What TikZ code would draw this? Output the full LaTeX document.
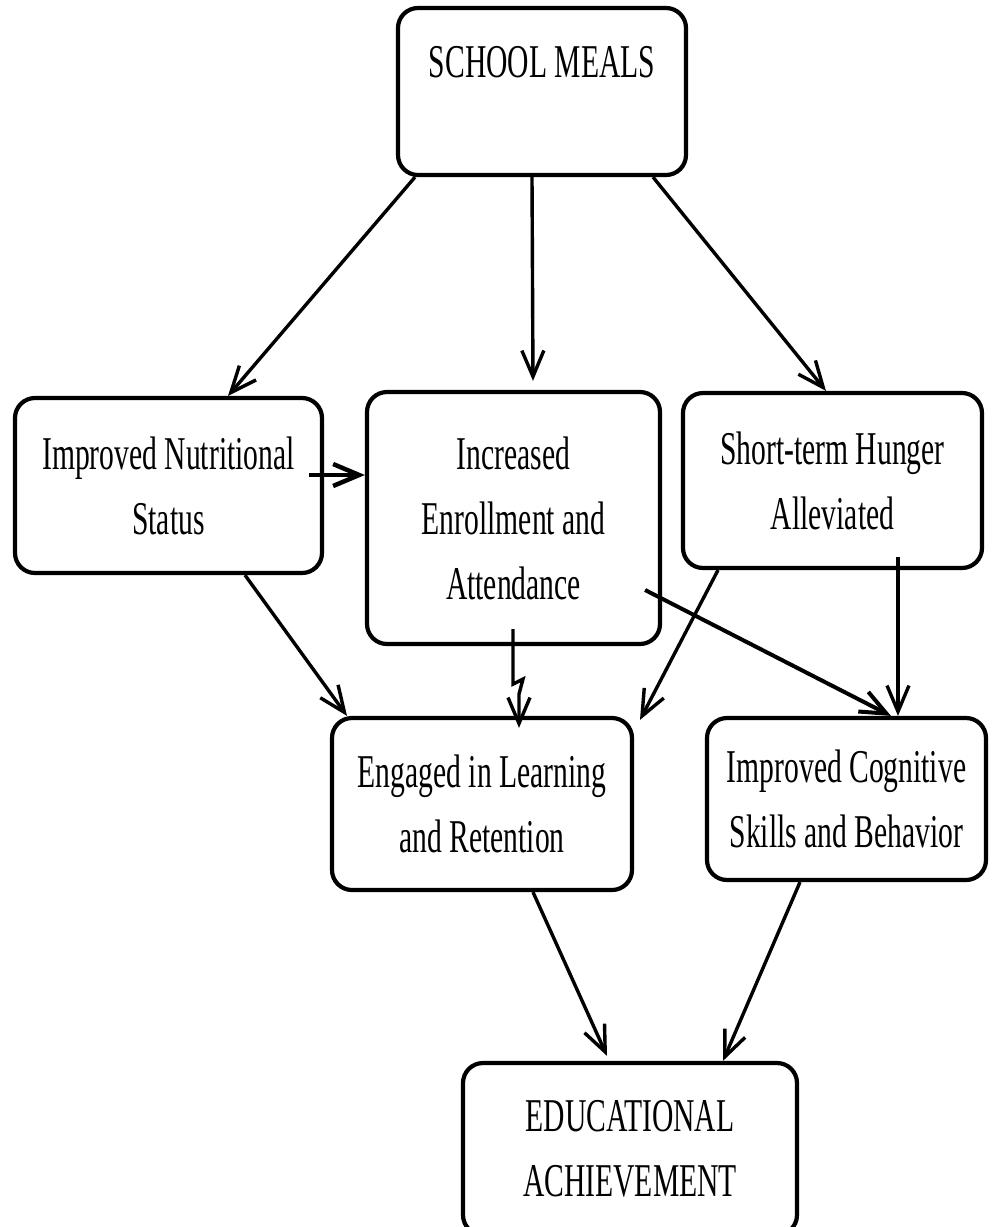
\documentclass[tikz,border=0pt]{standalone}
\usepackage{fontspec}
\setmainfont{Liberation Serif}[FakeStretch=0.63]
\usetikzlibrary{arrows.meta}
\begin{document}
\begin{tikzpicture}[x=1pt,y=-1pt,
  box/.style={draw, line width=4.2pt, rounded corners=20pt, inner sep=0pt, align=center,
    font=\fontsize{47}{65}\selectfont},
  arr/.style={line width=3.4pt, -{Straight Barb[length=26pt,width=22pt]}}]
\useasboundingbox (0,0) rectangle (997,1227);
\clip (0,0) rectangle (997,1227);
\fill[white] (0,0) rectangle (997,1227);

\node[box, align=none, minimum width=288pt, text height=69pt, text depth=98pt, anchor=base] (sm) at (542,77) {SCHOOL MEALS};
\node[box, minimum width=307pt, minimum height=175pt] (nut) at (168.5,485.5) {Improved Nutritional\\Status};
\node[box, minimum width=293pt, minimum height=252pt] (inc) at (513.5,518) {Increased\\Enrollment and\\Attendance};
\node[box, minimum width=299pt, minimum height=175pt] (st) at (832.5,480.5) {Short-term Hunger\\Alleviated};
\node[box, minimum width=300pt, minimum height=172pt] (eng) at (482,804) {Engaged in Learning\\and Retention};
\node[box, minimum width=279pt, minimum height=162pt] (cog) at (846.5,799) {Improved Cognitive\\Skills and Behavior};
\node[box, minimum width=334pt, minimum height=172pt] (edu) at (630,1149) {EDUCATIONAL\\ACHIEVEMENT};

\draw[arr] ([xshift=-127pt]sm.south) -- ([xshift=59.5pt]nut.north);
\draw[arr] ([xshift=-10pt]sm.south) -- ([xshift=19.5pt,yshift=9pt]inc.north);
\draw[arr] ([xshift=111pt]sm.south) -- ([xshift=-6.5pt]st.north);
\draw[arr, line width=4.5pt] ([xshift=-15pt,yshift=10.5pt]nut.east) -- ([yshift=43pt]inc.west);
\draw[arr] ([xshift=76.5pt]nut.south) -- ([xshift=-135pt]eng.north);
\draw[arr] ([xshift=-0.5pt,yshift=17pt]inc.south) -- ++(0,55) -- ++(10,-5) -- ++(-4,15) -- ([xshift=37pt,yshift=-12pt]eng.north);
\draw[arr] ([xshift=-114.5pt]st.south) -- ([xshift=158pt,yshift=-4pt]eng.north);
\draw[arr] ([xshift=65.5pt,yshift=13pt]st.south) -- ([xshift=51.5pt]cog.north);
\draw[arr, line width=4pt] ([xshift=-17pt,yshift=-72pt]inc.east) -- ([xshift=44.5pt]cog.north);
\draw[arr] ([xshift=51pt]eng.south) -- ([xshift=-23pt,yshift=5pt]edu.north);
\draw[arr] ([xshift=-46.5pt]cog.south) -- ([xshift=93pt]edu.north);
\end{tikzpicture}
\end{document}
